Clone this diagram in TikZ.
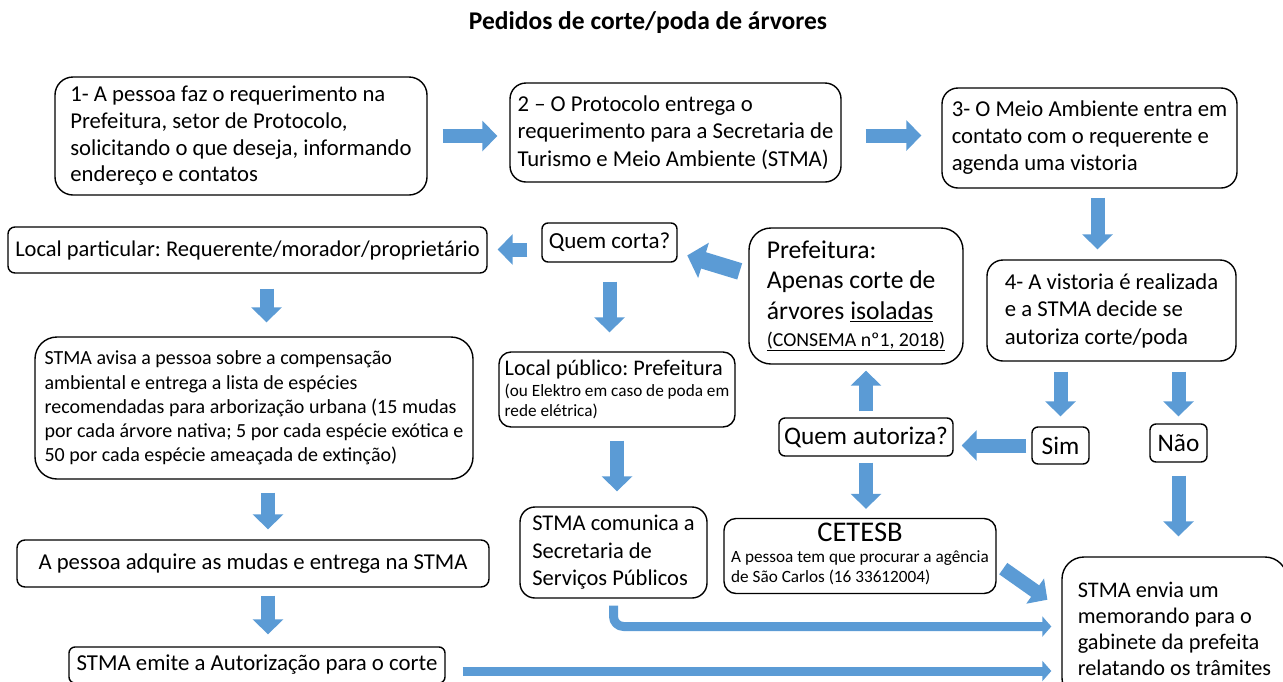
\documentclass[tikz,border=0pt]{standalone}
\usepackage{fontspec}
\setmainfont{Carlito}
\usetikzlibrary{arrows.meta}
\definecolor{setablue}{RGB}{91,155,213}
\frenchspacing

\begin{document}
\begin{tikzpicture}[x=1pt, y=-1pt, line join=round,
    box/.style={draw, line width=1.4pt, rounded corners=#1, align=left, inner sep=0pt},
    box/.default=16pt,
    seta/.style={setablue, line width=14pt, -{Triangle[width=30pt,length=15pt]}},
    setafina/.style={setablue, line width=9pt, -{Triangle[width=20pt,length=9pt]}}]
    \useasboundingbox (0,0) rectangle (1283,681);
    \node[font=\bfseries\fontsize{25.5}{30}\selectfont] (titulo) at (648,23) {Pedidos de corte/poda de árvores};
    \node[box=18pt, minimum width=372pt, minimum height=118pt, font=\fontsize{22.7}{26.7}\selectfont] (req) at (241,136)
        {1- A pessoa faz o requerimento na\\Prefeitura, setor de Protocolo,\\solicitando o que deseja, informando\\endereço e contatos};
    \node[box, minimum width=331pt, minimum height=99pt, font=\fontsize{22.7}{27.5}\selectfont] (proto) at (675.5,132.5)
        {2 – O Protocolo entrega o\\requerimento para a Secretaria de\\Turismo e Meio Ambiente (STMA)};
    \node[box, minimum width=295pt, minimum height=100pt, font=\fontsize{22.7}{27}\selectfont] (meio) at (1089.5,138)
        {3- O Meio Ambiente entra em\\contato com o requerente e\\agenda uma vistoria};
    \node[box, minimum width=249pt, minimum height=101pt, font=\fontsize{22.7}{27.5}\selectfont] (decide) at (1111.5,310.5)
        {4- A vistoria é realizada\\e a STMA decide se\\autoriza corte/poda};
    \node[box=7pt, minimum width=479pt, minimum height=46pt, font=\fontsize{22.5}{26}\selectfont] (particular) at (247.5,250)
        {Local particular: Requerente/morador/proprietário};
    \node[box=6pt, minimum width=135pt, minimum height=39pt, font=\fontsize{23}{27}\selectfont] (corta) at (609.5,242.5)
        {Quem corta?};
    \node[box=22pt, minimum width=214pt, minimum height=136pt, font=\fontsize{25.6}{30.5}\selectfont] (prefeitura) at (856,296)
        {Prefeitura:\\Apenas corte de\\árvores \underline{isoladas}\\[-3.5pt]\fontsize{19.8}{30.5}\selectfont\underline{(CONSEMA nº1, 2018)}};
    \node[box=22pt, minimum width=438pt, minimum height=142pt, font=\fontsize{20}{24.2}\selectfont] (avisa) at (254,408)
        {STMA avisa a pessoa sobre a compensação\\ambiental e entrega a lista de espécies\\recomendadas para arborização urbana (15 mudas\\por cada árvore nativa; 5 por cada espécie exótica e\\50 por cada espécie ameaçada de extinção)};
    \node[box=12pt, minimum width=236pt, minimum height=75pt, font=\fontsize{22.3}{25}\selectfont] (publico) at (617,389.5)
        {Local público: Prefeitura\\[-4pt]\fontsize{17.2}{20}\selectfont(ou Elektro em caso de poda em\\[-5pt]\fontsize{17.2}{20}\selectfont rede elétrica)};
    \node[box=6pt, minimum width=174pt, minimum height=38pt, font=\fontsize{25.3}{29}\selectfont] (autoriza) at (866,437)
        {Quem autoriza?};
    \node[box=6pt, minimum width=57pt, minimum height=37pt, font=\fontsize{25.3}{29}\selectfont] (sim) at (1060.5,445.5)
        {Sim};
    \node[box=6pt, minimum width=57pt, minimum height=38pt, font=\fontsize{25.3}{29}\selectfont] (nao) at (1178.5,443)
        {Não};
    \node[box=15pt, minimum width=187pt, minimum height=91pt, font=\fontsize{22.5}{27.5}\selectfont] (comunica) at (613.5,552.5)
        {STMA comunica a\\Secretaria de\\Serviços Públicos};
    \node[box=12pt, minimum width=272pt, minimum height=75pt, font=\fontsize{17.2}{20.5}\selectfont] (cetesb) at (860,556)
        {\begin{tabular}{@{}l@{}}\multicolumn{1}{@{}c@{}}{\fontsize{28.5}{30}\selectfont CETESB}\\A pessoa tem que procurar a agência\\de São Carlos (16 33612004)\end{tabular}};
    \node[box=8pt, minimum width=472pt, minimum height=47pt, font=\fontsize{22.7}{26}\selectfont] (adquire) at (253,563.5)
        {A pessoa adquire as mudas e entrega na STMA};
    \node[box=6pt, minimum width=376pt, minimum height=36pt, font=\fontsize{22.8}{26}\selectfont] (emite) at (257,665)
        {STMA emite a Autorização para o corte};
    \node[box=22pt, minimum width=225pt, minimum height=143pt, font=\fontsize{22.3}{26}\selectfont] (envia) at (1174.5,628.5)
        {STMA envia um\\memorando para o\\gabinete da prefeita\\relatando os trâmites};
    \draw[seta, shorten <=15pt, shorten >=12pt] (req.east) -- (req.east -| proto.west);
    \draw[seta, shorten <=24pt, shorten >=20pt] ([yshift=-3pt]proto.east) -- ([yshift=-3pt]proto.east -| meio.west);
    \draw[seta, shorten <=9pt, shorten >=10pt] ([xshift=8pt]meio.south) -- ([xshift=8pt]meio.south |- decide.north);
    \draw[seta, shorten <=10pt, shorten >=10pt] (decide.south -| sim.north) -- (sim.north);
    \draw[seta, shorten <=10pt, shorten >=7pt] (decide.south -| nao.north) -- (nao.north);
    \draw[seta, shorten <=5pt, shorten >=8pt] (sim.west) -- (sim.west -| autoriza.east);
    \draw[seta, shorten <=6pt, shorten >=6pt] (autoriza.north) -- (autoriza.north |- prefeitura.south);
    \draw[seta, shorten <=6pt, shorten >=9pt] (autoriza.south) -- (autoriza.south |- cetesb.north);
    \draw[seta, line width=17pt, -{Triangle[width=36pt,length=17pt]}, shorten <=9pt, shorten >=10pt] ([yshift=22pt]prefeitura.west) -- ([yshift=-10pt]corta.east);
    \draw[seta, shorten <=14pt, shorten >=10pt] ([yshift=-7pt]corta.west) -- ([yshift=-7pt]corta.west -| particular.east);
    \draw[seta, shorten <=19pt, shorten >=19pt] (corta.south) -- (corta.south |- publico.north);
    \draw[seta, shorten <=15pt, shorten >=14pt] ([xshift=19pt]particular.south) -- ([xshift=19pt]particular.south |- avisa.north);
    \draw[seta, shorten <=13pt, shorten >=10pt] ([xshift=14pt]avisa.south) -- ([xshift=14pt]avisa.south |- adquire.north);
    \draw[seta, shorten <=8pt, shorten >=12pt] ([xshift=15pt]adquire.south) -- ([xshift=15pt]adquire.south |- emite.north);
    \draw[seta, shorten <=13pt, shorten >=15pt] (publico.south) -- (publico.south |- comunica.north);
    \draw[setafina, rounded corners=10pt, shorten <=7pt, shorten >=10pt] (comunica.south) |- ([yshift=2pt]envia.west);
    \draw[setafina, shorten <=17pt, shorten >=10pt] ([yshift=-6pt]emite.east) -- ([yshift=-6pt]emite.east -| envia.west);
    \draw[seta, shorten <=8pt, shorten >=17pt] ([yshift=-8pt]cetesb.east) -- ([yshift=19pt]envia.west);
    \draw[seta, shorten <=13pt, shorten >=20pt] (nao.south) -- (nao.south |- envia.north);
\end{tikzpicture}
\end{document}
